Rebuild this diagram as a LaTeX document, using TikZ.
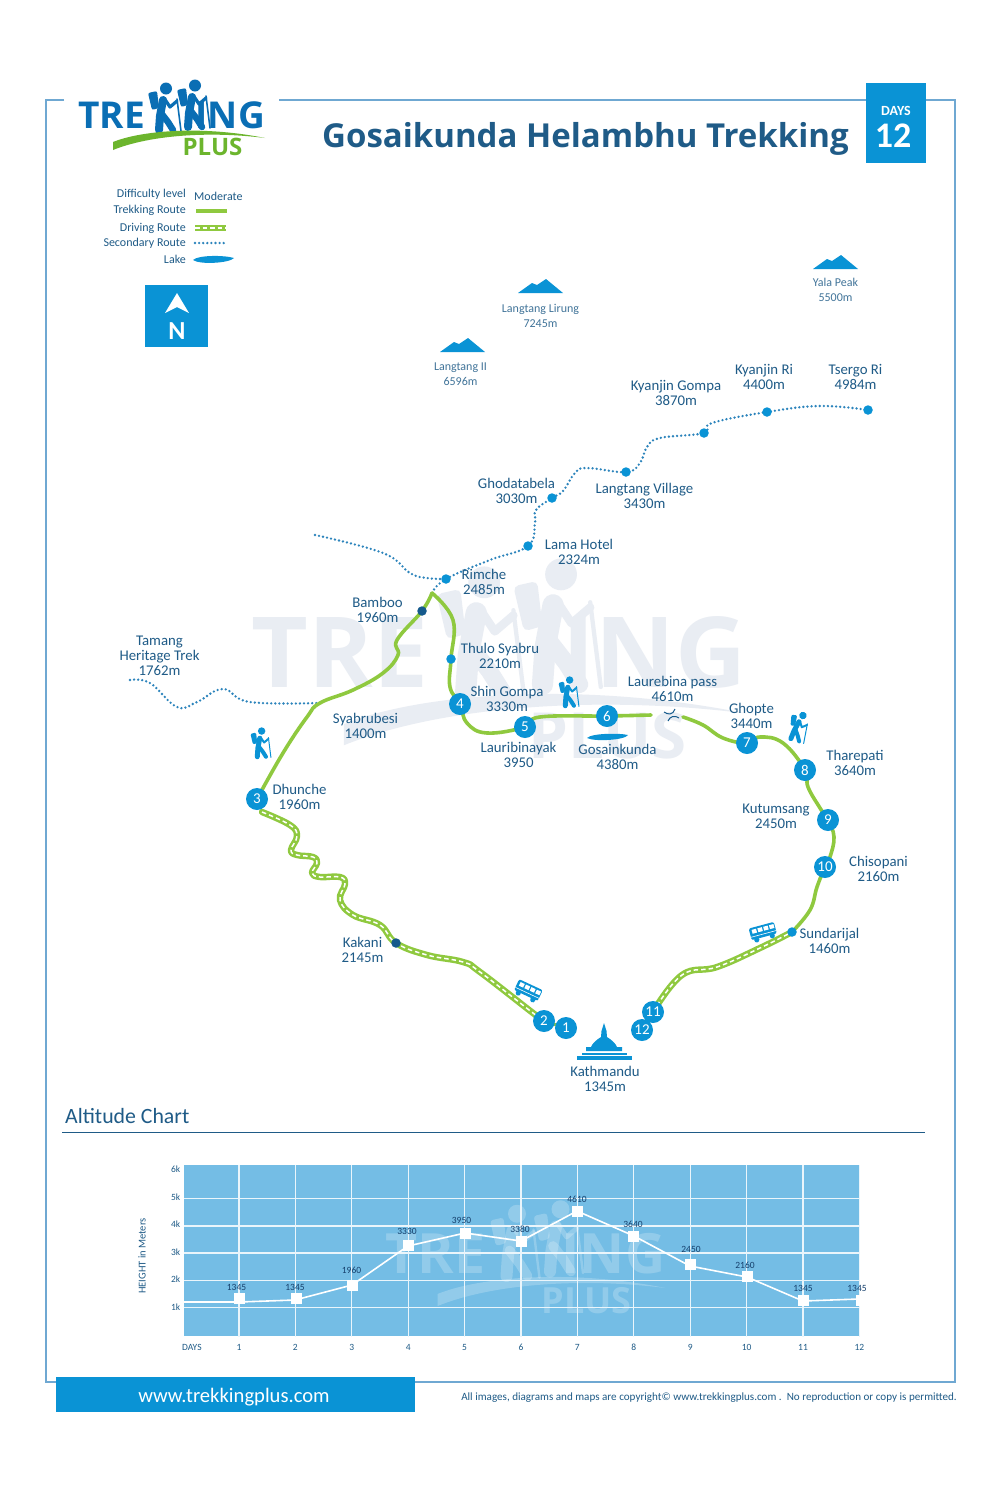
\documentclass[tikz,border=0pt]{standalone}
\usepackage{fontspec}
\setmainfont{Carlito}
\newfontfamily\osans{Open Sans}
\usetikzlibrary{calc}
\definecolor{mblue}{HTML}{0A93D5}
\definecolor{ink}{HTML}{1F5B87}
\definecolor{frameblue}{HTML}{6FA8D2}
\definecolor{trek}{HTML}{8FC93F}
\definecolor{dotblue}{HTML}{2C84BC}
\definecolor{wm}{HTML}{E9EDF3}
\definecolor{chartbg}{HTML}{74BDE5}
\definecolor{darkstop}{HTML}{155A8C}
\definecolor{logoblue}{HTML}{0A6EB4}
\definecolor{logogreen}{HTML}{6CB52D}
\definecolor{valink}{HTML}{16406C}
\newcommand{\fsz}[1]{\fontsize{#1}{#1}\selectfont}
\tikzset{
  lbl/.style={text=ink,align=center,inner sep=0pt,yshift=-.2pt,font=\fontsize{14.8}{15}\selectfont},
  peaklbl/.style={text=ink!85,align=center,inner sep=0pt,yshift=-.2pt,font=\fontsize{12}{15}\selectfont},
  leglbl/.style={text=ink,anchor=east,inner sep=0pt,yshift=-.5pt,font=\fsz{12}},
  daynum/.style={circle,fill=mblue,text=white,minimum size=22pt,inner sep=0pt,font=\fsz{15}},
  stop/.style={circle,fill=mblue,minimum size=9.5pt,inner sep=0pt},
  darkstopn/.style={circle,fill=darkstop,minimum size=9.5pt,inner sep=0pt},
  trekline/.style={draw=trek,line width=3.6pt,line cap=round,line join=round},
  driveline/.style={draw=trek,line width=6.4pt,line cap=round,line join=round},
  drivedash/.style={draw=white,line width=1.5pt,dash pattern=on 4.5pt off 3pt},
  secline/.style={draw=dotblue,line width=2.6pt,line cap=round,dash pattern=on 0pt off 4.1pt},
  charttick/.style={text=ink,inner sep=0pt,font=\fsz{9.5}},
  chartval/.style={text=valink,inner sep=0pt,font=\fsz{9.5}},
  mark box/.style={rectangle,fill=white,minimum size=11pt,inner sep=0pt},
}
% hiker figure: origin at the feet, 49 units tall; #2 is the scale, for line widths
\newcommand{\hikerfig}[2]{%
  \fill[#1] (1,-43.5) circle (6);
  \fill[#1,rounded corners=2*#2pt] (-17,-39) -- (-8,-41) -- (-6,-24) -- (-13,-22) -- cycle;
  \draw[#1,line width=#2*8pt,line cap=round,line join=round] (-2,-32) -- (-5,-16) -- (-6,-2);
  \draw[#1,line width=#2*6.5pt,line cap=round,line join=round] (-4,-19) -- (3,-10) -- (8,-2);
  \draw[#1,line width=#2*3.2pt,line cap=round,line join=round] (-1,-34) -- (5,-25) -- (12,-31);
  \draw[#1,line width=#2*1.6pt,line cap=round] (12,-33) -- (16,-1);
}
% brand art: origin at the left end of the baseline of TRE; #3 is the scale
\newcommand{\brandart}[3]{%
  \node[anchor=base west,inner sep=0pt,text=#1,font=\osans\bfseries\fsz{37}] (brandA) at (0,0) {TRE};
  \node[anchor=base east,inner sep=0pt,text=#1,font=\osans\bfseries\fsz{37}] (brandB) at (187,0) {ING};
  \begin{scope}[shift={(87,4)}]\hikerfig{#1}{#3}\end{scope}
  \begin{scope}[shift={(116,1)}]\hikerfig{#1}{#3}\end{scope}
  \fill[#2] (35,14) .. controls (62,3) and (122,-3) .. (187,10) .. controls (132,3) and (72,7) .. (35,22) -- cycle;
  \node[anchor=center,inner sep=0pt,text=#2,font=\osans\bfseries\fsz{24}] (brandC) at (134.5,18.5) {PLUS};
}
\newcommand{\peakfig}[2]{\fill[mblue] (#1,#2) -- ++(14,-10) -- ++(5,2) -- ++(9,-6) -- ++(17,14) -- cycle;}
\newcommand{\busfig}{%
  \fill[mblue,rounded corners=2pt] (-13,-7) rectangle (13,5);
  \fill[mblue] (-8,6) circle (2.6) (8,6) circle (2.6);
  \foreach \q in {-10.5,-4.5,1.5,7.5}{\fill[white] (\q,-5) rectangle +(4.6,4);}
  \draw[white,line width=.6pt] (-13,2) -- (13,2);
}
\begin{document}
\begin{tikzpicture}[x=1pt,y=-1pt]
\useasboundingbox (0,0) rectangle (1000,1500);
\fill[white] (0,0) rectangle (1000,1500);

% watermark
\begin{scope}[shift={(251,687)},scale=2.65,transform shape]
  \brandart{wm}{wm}{2.65}
\end{scope}

% frame
\draw[frameblue,line width=1.5pt] (64,100) -- (46,100) -- (46,1382) -- (955,1382) -- (955,100) -- (926,100);
\draw[frameblue,line width=1.5pt] (279,100) -- (866,100);

% logo
\begin{scope}[shift={(78,128)}]
  \brandart{logoblue}{logogreen}{1}
\end{scope}

% title and days
\node[anchor=west,inner sep=0pt,text=ink,font=\osans\bfseries\fsz{33}] (title) at (322,139) {Gosaikunda Helambhu Trekking};
\node[rectangle,fill=mblue,minimum width=60pt,minimum height=80pt,inner sep=0pt] (daysbox) at (896,123) {};
\node[inner sep=0pt,text=white,font=\bfseries\fsz{14}] (daystxt) at (896,111) {DAYS};
\node[inner sep=0pt,text=white,font=\bfseries\fsz{36}] (daysnum) at (893,136) {12};

% legend
\node[leglbl] (lgA) at (186,194) {Difficulty level};
\node[anchor=west,inner sep=0pt,yshift=-.5pt,text=ink,font=\fsz{12}] (lgM) at (194,195.5) {Moderate};
\node[leglbl] (lgB) at (186,210) {Trekking Route};
\node[leglbl] (lgC) at (186,227.5) {Driving Route};
\node[leglbl] (lgD) at (186,243) {Secondary Route};
\node[leglbl] (lgE) at (186,258.5) {Lake};
\coordinate (lt1) at (196,211); \coordinate (lt2) at (227,211);
\draw[draw=trek,line width=3.6pt] (lt1) -- (lt2);
\coordinate (ld1) at (195,228); \coordinate (ld2) at (226,228);
\draw[draw=trek,line width=6.4pt] (ld1) -- (ld2);
\draw[drivedash] (ld1) -- (ld2);
\coordinate (ls1) at (195,243); \coordinate (ls2) at (225,243);
\draw[secline] (ls1) -- (ls2);
\fill[mblue] (193,260) .. controls (198,255) and (224,255) .. (234,258) .. controls (230,263) and (200,265) .. (193,260) -- cycle;

% north box
\node[rectangle,fill=mblue,minimum width=63pt,minimum height=62pt,inner sep=0pt] (northbox) at (176.5,316) {};
\fill[white] (177,293) -- (189,313) -- (177,307) -- (165,313) -- cycle;
\node[inner sep=0pt,text=white,font=\bfseries\fsz{26}] (northN) at (177,331) {N};

% peaks
\peakfig{518}{293}
\peakfig{440}{352}
\peakfig{813}{269}
\node[peaklbl] (pkA) at (540.5,315.5) {Langtang Lirung\\7245m};
\node[peaklbl] (pkB) at (460.5,373.5) {Langtang II\\6596m};
\node[peaklbl] (pkC) at (835.5,290) {Yala Peak\\5500m};

% stop positions
\coordinate (p1) at (566,1028); \coordinate (p2) at (544,1021); \coordinate (p3) at (257,799);
\coordinate (p4) at (460,704); \coordinate (p5) at (525,727); \coordinate (p6) at (607,716);
\coordinate (p7) at (747,743); \coordinate (p8) at (805,770); \coordinate (p9) at (828,820);
\coordinate (p10) at (825,867); \coordinate (p11) at (653,1012); \coordinate (p12) at (642,1030);
\coordinate (bamboo) at (422,611); \coordinate (thulo) at (451,659); \coordinate (rimche) at (446,579);
\coordinate (lama) at (528,546); \coordinate (ghoda) at (552,498); \coordinate (langv) at (626,472);
\coordinate (kgompa) at (704,433); \coordinate (kri) at (767,412); \coordinate (tsergo) at (868,410);
\coordinate (kakani) at (396,943); \coordinate (sund) at (792,932);
\coordinate (summit) at (432,593); \coordinate (syab) at (320,703);

% secondary routes
\draw[secline] plot[smooth,tension=.7] coordinates {(summit) (rimche) (490,560) (lama) (535,523) (536,510) (ghoda) (563,491) (575,473) (587,468) (langv) (640,463) (647,447) (660,438) (kgompa) (712,423) (kri) (820,406) (tsergo)};
\draw[secline] plot[smooth,tension=.7] coordinates {(315,535) (383,553) (410,573) (427,578) (rimche)};
\draw[secline] plot[smooth,tension=.7] coordinates {(130,680) (150,683) (177,707) (197,702) (223,689) (250,702) (syab)};

% trekking routes
\draw[trekline] plot[smooth,tension=.7] coordinates {(p3) (283,753) (307,717) (syab) (353,690) (383,673) (398,655) (397,640) (bamboo) (summit)};
\draw[trekline] plot[smooth,tension=.7] coordinates {(summit) (453,620) (thulo) (450,687) (p4) (467,723) (487,733) (p5) (540,717) (p6) (651,715)};
\draw[trekline] plot[smooth,tension=.7] coordinates {(683,717) (703,725) (723,738) (p7) (760,737) (783,743) (p8) (808,787) (820,808) (p9) (834,837) (830,857) (p10) (817,887) (810,910) (sund)};

% driving routes
\foreach \stl in {driveline,drivedash}{
  \draw[\stl] plot[smooth,tension=.7] coordinates {(262,812) (290,825) (297,836) (291,850) (297,855) (313,857) (317,863) (312,873) (320,877) (340,877) (345,884) (340,900) (353,915) (380,925) (kakani) (427,955) (463,962) (480,972) (533,1013) (p2)};
  \draw[\stl] plot[smooth,tension=.7] coordinates {(p11) (682,975) (717,967) (760,948) (sund)};
}
\draw[draw=trek,line width=3pt] (p2) -- (p1);

% small stops
\node[stop] (nRimche) at (rimche) {};
\node[stop] (nLama) at (lama) {};
\node[stop] (nGhoda) at (ghoda) {};
\node[stop] (nLangv) at (langv) {};
\node[stop] (nGompa) at (kgompa) {};
\node[stop] (nKri) at (kri) {};
\node[stop] (nTsergo) at (tsergo) {};
\node[stop] (nThulo) at (thulo) {};
\node[stop] (nSund) at (sund) {};
\node[darkstopn] (nBamboo) at (bamboo) {};
\node[darkstopn] (nKakani) at (kakani) {};

% numbered stops
\foreach \i in {1,...,12}{\node[daynum] (n\i) at (p\i) {\i};}

% pass symbol
\draw[darkstop,line width=1pt] (664,712) .. controls (668,715) and (673,715) .. (675,709);
\draw[darkstop,line width=1pt] (668,721) .. controls (670,716) and (675,715) .. (679,718);

% lake
\fill[mblue] (587,738) .. controls (592,733) and (620,733) .. (628,735) .. controls (625,740) and (595,742) .. (587,738) -- cycle;

% hikers
\begin{scope}[shift={(261,758)},scale=.62]\hikerfig{mblue}{.62}\end{scope}
\begin{scope}[shift={(569,707)},scale=.62]\hikerfig{mblue}{.62}\end{scope}
\begin{scope}[shift={(794,741)},rotate=-18,scale=.62]\hikerfig{mblue}{.62}\end{scope}

% buses
\begin{scope}[shift={(528,991)},rotate=-25]\busfig\end{scope}
\begin{scope}[shift={(763,932)},rotate=15]\busfig\end{scope}

% stupa
\fill[mblue] (604,1023) -- (606.5,1031) -- (607,1037) .. controls (612,1040) and (616,1044) .. (617,1047) -- (622,1047) -- (622,1051) -- (586,1051) -- (586,1047) -- (591,1047) .. controls (592,1044) and (596,1040) .. (601,1037) -- (601.5,1031) -- cycle;
\fill[mblue] (582,1052.5) rectangle (627,1054.5);
\fill[mblue] (577,1056) rectangle (632,1060);

% labels
\node[lbl] (lTsergo) at (855.5,377) {Tsergo Ri\\4984m};
\node[lbl] (lKri) at (764,377) {Kyanjin Ri\\4400m};
\node[lbl] (lGompa) at (676,393) {Kyanjin Gompa\\3870m};
\node[lbl] (lLangv) at (644.5,495.5) {Langtang Village\\3430m};
\node[lbl] (lGhoda) at (516.5,491) {Ghodatabela\\3030m};
\node[lbl] (lLama) at (579,551.5) {Lama Hotel\\2324m};
\node[lbl] (lRimche) at (484,581.5) {Rimche\\2485m};
\node[lbl] (lBamboo) at (377.5,609.5) {Bamboo\\1960m};
\node[lbl] (lThulo) at (500,656) {Thulo Syabru\\2210m};
\node[lbl] (lShin) at (507,699) {Shin Gompa\\3330m};
\node[lbl] (lPass) at (672.5,689) {Laurebina pass\\4610m};
\node[lbl] (lGhopte) at (751.5,715.5) {Ghopte\\3440m};
\node[lbl] (lThare) at (855,763) {Tharepati\\3640m};
\node[lbl] (lKutum) at (776,816) {Kutumsang\\2450m};
\node[lbl] (lChiso) at (878.5,868.5) {Chisopani\\2160m};
\node[lbl] (lSund) at (829.5,941) {Sundarijal\\1460m};
\node[lbl] (lKath) at (605,1079) {Kathmandu\\1345m};
\node[lbl] (lKakani) at (362.5,950) {Kakani\\2145m};
\node[lbl] (lDhun) at (299.5,796.5) {Dhunche\\1960m};
\node[lbl] (lSyab) at (365.5,726) {Syabrubesi\\1400m};
\node[lbl] (lLauri) at (518.5,755) {Lauribinayak\\3950};
\node[lbl] (lGosa) at (617.5,757) {Gosainkunda\\4380m};
\node[lbl] (lTamang) at (159.5,655.5) {Tamang\\Heritage Trek\\1762m};

% chart heading
\node[anchor=west,inner sep=0pt,text=ink,font=\fsz{21.8}] (chead) at (65,1116) {Altitude Chart};
\coordinate (ch1) at (62,1132); \coordinate (ch2) at (925,1132);
\draw[ink,line width=1pt] (ch1) -- (ch2);

% chart
\fill[chartbg] (184,1165) rectangle (860,1337);
\begin{scope}[shift={(385,1273)},scale=1.5,transform shape,opacity=.22]
  \brandart{white}{white}{1.5}
\end{scope}
\foreach \gy in {1198.5,1226,1253,1280.5,1307.5}{\draw[white!85!chartbg,line width=1.2pt] (184,\gy) -- (860,\gy);}
\draw[white,line width=1.2pt] (184,1336.5) -- (860,1336.5);
\foreach \i in {1,...,12}{
  \pgfmathsetmacro{\gx}{239+56.4*(\i-1)}
  \draw[white!85!chartbg,line width=1.2pt] (\gx,1165) -- (\gx,1337);
  \node[charttick] (dn\i) at (\gx,1347) {\i};
}
\node[charttick,anchor=west] (dlabel) at (182,1347) {DAYS};
\foreach \t/\ty in {6k/1169,5k/1197,4k/1224,3k/1252,2k/1279,1k/1307}{
  \node[charttick,anchor=east] (y\t) at (180.5,\ty) {\t};
}
\node[charttick,rotate=90,font=\fsz{10.5}] (ylabel) at (142,1256) {HEIGHT in Meters};
\coordinate (c0) at (184,1302);
\foreach \i/\lx/\ly in {1/239/1302,2/295/1300,3/352/1285,4/408/1246,5/465/1233,6/521/1241,7/577/1211,8/634/1236,9/690/1266,10/747/1277,11/803/1301,12/859/1299}{
  \coordinate (c\i) at (\lx,\ly);
}
\draw[white,line width=1.6pt,line join=round] (c0) -- (c1) -- (c2) -- (c3) -- (c4) -- (c5) -- (c6) -- (c7) -- (c8) -- (c9) -- (c10) -- (c11) -- (c12);
\begin{scope}
  \clip (184,1165) rectangle (860,1337);
  \foreach \i/\lx/\ly in {1/239/1298,2/296/1298,3/352/1285,4/408/1245.5,5/465/1233,6/521/1241,7/577/1211,8/633/1236,9/690/1264,10/747/1276.5,11/803/1300.5,12/861/1300.5}{
    \node[mark box] (m\i) at (\lx,\ly) {};
  }
\end{scope}
\foreach \i/\lx/\ly/\v in {1/236.5/1287/1345,2/295/1287/1345,3/351.5/1270/1960,4/407/1231/3330,5/461.5/1220/3950,6/520/1229/3380,7/577/1199/4610,8/633/1224/3640,9/691/1249/2450,10/745/1265/2160,11/803/1288/1345,12/857/1288/1345}{
  \node[chartval] (v\i) at (\lx,\ly) {\v};
}

% footer
\node[rectangle,fill=mblue,minimum width=359pt,minimum height=35pt,inner sep=0pt] (banner) at (235.5,1394.5) {};
\node[inner sep=0pt,text=white,font=\fsz{20.6}] (bannertxt) at (234,1397.5) {www.trekkingplus.com};
\node[anchor=east,inner sep=0pt,text=ink,font=\fsz{11.1}] (copy) at (957,1398) {All images, diagrams and maps are copyright© www.trekkingplus.com .\ \ No reproduction or copy is permitted.};
\end{tikzpicture}
\end{document}
